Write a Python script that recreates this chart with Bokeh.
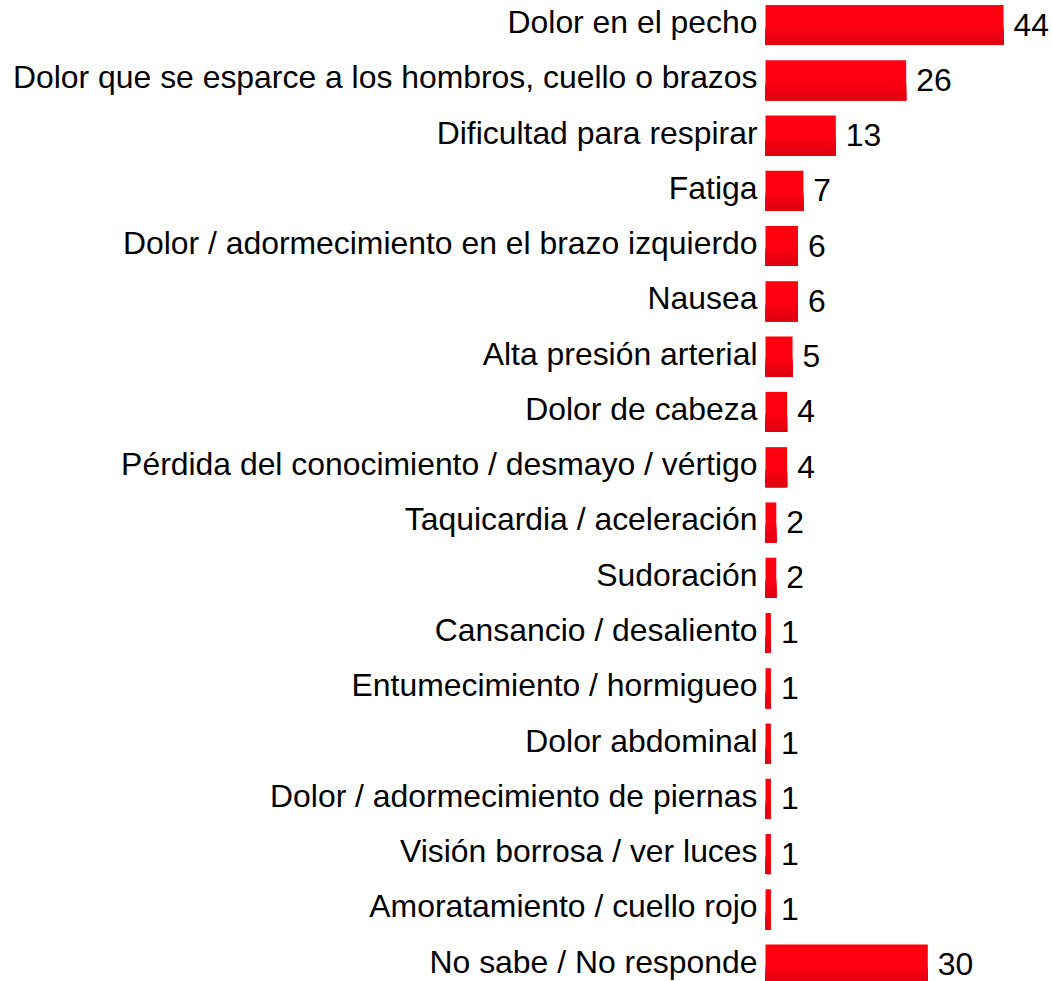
from bokeh.plotting import figure
from bokeh.models import ColumnDataSource, Range1d
from bokeh.core.properties import value
from bokeh.embed import file_html
from bokeh.resources import INLINE

categories = [
    "Dolor en el pecho",
    "Dolor que se esparce a los hombros, cuello o brazos",
    "Dificultad para respirar",
    "Fatiga",
    "Dolor / adormecimiento en el brazo izquierdo",
    "Nausea",
    "Alta presión arterial",
    "Dolor de cabeza",
    "Pérdida del conocimiento / desmayo / vértigo",
    "Taquicardia / aceleración",
    "Sudoración",
    "Cansancio / desaliento",
    "Entumecimiento / hormigueo",
    "Dolor abdominal",
    "Dolor / adormecimiento de piernas",
    "Visión borrosa / ver luces",
    "Amoratamiento / cuello rojo",
    "No sabe / No responde",
]
values = [44, 26, 13, 7, 6, 6, 5, 4, 4, 2, 2, 1, 1, 1, 1, 1, 1, 30]

W, H = 1052, 981
px_per_unit = 5.41
x_start = -765 / px_per_unit
x_end = x_start + W / px_per_unit
row_px = 55.27
y_top = -24.5 / row_px
y_bot = y_top + H / row_px

rows = list(range(len(categories)))
src = ColumnDataSource(dict(y=rows, v=values, cat=categories, lab=[str(v) for v in values]))

p = figure(width=W, height=H, output_backend="svg", toolbar_location=None,
           x_range=Range1d(x_start, x_end), y_range=Range1d(y_bot, y_top),
           min_border=0, outline_line_color=None)
p.axis.visible = False
p.grid.visible = False
p.background_fill_color = "white"
p.border_fill_color = "white"

bar_h = 40 / row_px
# base bar (bright red)
p.hbar(y="y", left=0, right="v", height=bar_h, source=src, fill_color="#ff0010", line_color=None)
# darker overlays anchored at the bar bottom to simulate the subtle vertical gradient
n = 8
for k in range(1, n + 1):
    frac = k / n
    h = bar_h * 0.45 * (1 - (k - 1) / n)
    r = int(round(255 - 32 * frac))
    col = "#%02x%02x%02x" % (r, 0, 16)
    ys = [rr + bar_h / 2 - h / 2 for rr in rows]
    p.hbar(y=ys, left=0, right=values, height=h, fill_color=col, line_color=None)

p.text(x=0, y="y", text="cat", source=src, text_align="right", text_baseline="alphabetic",
       x_offset=-8, y_offset=-3, text_font=value("Liberation Sans"), text_font_size="31.9px",
       text_color="black")
p.text(x="v", y="y", text="lab", source=src, text_align="left", text_baseline="alphabetic",
       x_offset=10, y_offset=-0.5, text_font=value("Liberation Sans"), text_font_size="31.9px",
       text_color="black")

open("out.html", "w").write(file_html(p, INLINE))
